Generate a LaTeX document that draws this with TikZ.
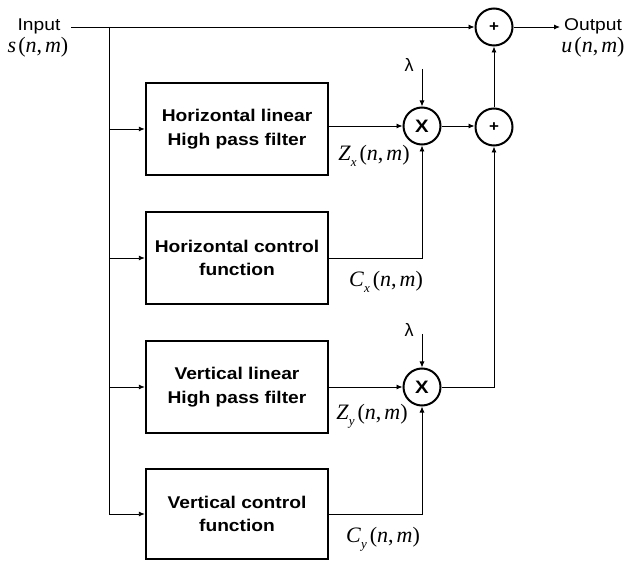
\documentclass[tikz,border=0pt]{standalone}
\usepackage{fontspec}
\setmainfont{Liberation Sans}
\newfontfamily\wideSans[FakeStretch=1.13]{Liberation Sans}
\newfontfamily\serifM{Liberation Serif}
\usetikzlibrary{arrows.meta,calc}

% signal name with subscript and (n,m) argument, equation-editor look
\newcommand\argnm{\serifM(\textit{n},\kern3pt\textit{m})}
\newcommand\sigsub[2]{{\serifM\textit{#1}}\raisebox{-6pt}{\fontsize{13}{13}\selectfont\serifM\textit{#2}}\kern3pt\argnm}
\newcommand\sigplain[1]{{\serifM\textit{#1}}\kern2pt\argnm}

\tikzset{
  blk/.style={draw, line width=2.4pt, minimum width=182pt, minimum height=92pt,
    align=center, inner sep=0pt,
    font=\wideSans\bfseries\fontsize{17}{23.5}\selectfont},
  op/.style={draw, circle, line width=2pt, minimum size=37pt, inner sep=0pt,
    font=\wideSans\bfseries\fontsize{18}{18}\selectfont},
  arr/.style={-{Latex[length=6pt,width=5pt]}, line width=0.9pt},
  lbl/.style={font=\wideSans\fontsize{17}{17}\selectfont, inner sep=0pt},
  mlbl/.style={font=\fontsize{22}{22}\selectfont, inner sep=0pt},
  lam/.style={font=\fontsize{18}{18}\selectfont, inner sep=0pt}
}

\begin{document}
\begin{tikzpicture}[x=1pt,y=1pt]
\useasboundingbox (0,0) rectangle (624,-561);

% filter and control blocks
\node[blk] (h1) at (237,-129) {Horizontal linear\\High pass filter};
\node[blk] (h2) at (237,-258) {Horizontal control\\function};
\node[blk] (v1) at (237,-387) {Vertical linear\\High pass filter};
\node[blk, minimum height=90pt] (v2) at (237,-514) {Vertical control\\function};

% multipliers and adders
\node[op] (x1) at (422,-126) {X};
\node[op] (x2) at (422,-387) {X};
\node[op, font=\wideSans\bfseries\fontsize{15}{15}\selectfont] (p2) at (494,-127) {+};
\node[op, font=\wideSans\bfseries\fontsize{15}{15}\selectfont] (p1) at (494,-27) {+};

% input and output
\node[lbl] (inl) at (39,-26) {Input};
\node[mlbl] (sin) at (38,-47) {\sigplain{s}};
\node[lbl] (outl) at (593,-26) {Output};
\node[mlbl] (uout) at (593,-47) {\sigplain{u}};
\coordinate (inst) at (71,-27);
\coordinate (tr0) at (109,-27);
\coordinate (outend) at (560,-27);

% gains
\node[lam] (l1) at (409,-65) {λ};
\node[lam] (l2) at (409,-330) {λ};
\coordinate (l1s) at (422,-69);
\coordinate (l2s) at (422,-334);

% signal names
\node[mlbl] (zx) at (374,-156) {\sigsub{Z}{x}};
\node[mlbl] (cx) at (386,-282) {\sigsub{C}{x}};
\node[mlbl] (zy) at (372,-416) {\sigsub{Z}{y}};
\node[mlbl] (cy) at (383,-539) {\sigsub{C}{y}};

% input bus and branches
\draw[arr] (inst) -- (p1.west);
\draw[arr] (tr0) |- (v2.west);
\draw[arr] (tr0 |- h1.west) -- (h1.west);
\draw[arr] (tr0 |- h2.west) -- (h2.west);
\draw[arr] (tr0 |- v1.west) -- (v1.west);

% horizontal path
\draw[arr] (h1.east |- x1.west) -- (x1.west);
\draw[arr] (h2.east) -| (x1.south);
\draw[arr] (l1s) -- (x1.north);
\draw[arr] (x1.east) -- (x1.east -| p2.west);

% vertical path
\draw[arr] (v1.east) -- (x2.west);
\draw[arr] (v2.east) -| (x2.south);
\draw[arr] (l2s) -- (x2.north);
\draw[arr] (x2.east) -| (p2.south);

% summation to output
\draw[arr] (p2.north) -- (p1.south);
\draw[arr] (p1.east) -- (outend);
\end{tikzpicture}
\end{document}
